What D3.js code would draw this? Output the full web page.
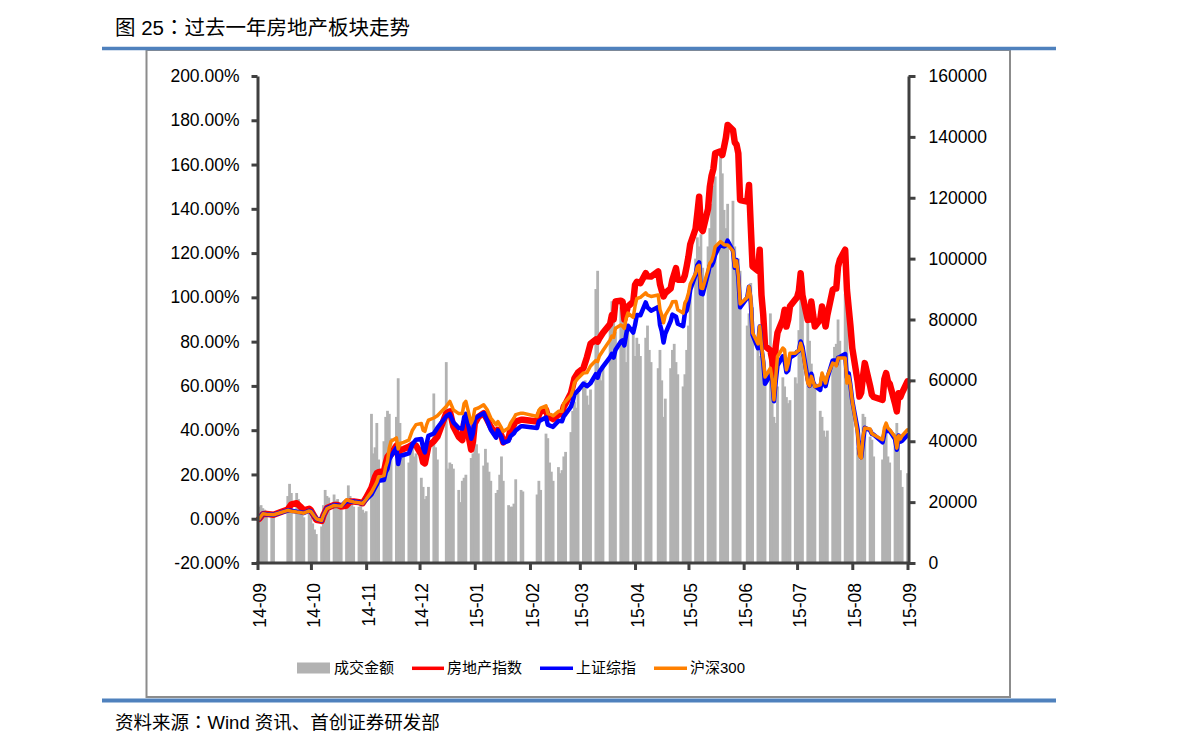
<!DOCTYPE html>
<html><head><meta charset="utf-8">
<script src="https://cdn.jsdelivr.net/npm/d3@7"></script>
<style>
body{margin:0;background:#fff;}
svg{display:block;font-family:"Liberation Sans","Noto Sans CJK SC",Arial,sans-serif;}
</style></head><body>
<svg id="chart" width="1191" height="754"></svg>
<script>
// ---------------- DATA ----------------
const titleParts = ["图 25", "：", "过去一年房地产板块走势"];
const sourceParts = ["资料来源", "：", "Wind 资讯、首创证券研发部"];
const seriesNames = ["成交金额", "房地产指数", "上证综指", "沪深300"];

// exchange holidays (no bars)
const holidays = ["2014-10-01","2014-10-02","2014-10-03","2014-10-06","2014-10-07",
  "2015-01-01","2015-01-02","2015-02-18","2015-02-19","2015-02-20","2015-02-23","2015-02-24",
  "2015-04-06","2015-05-01","2015-06-22","2015-09-03","2015-09-04"];

// daily turnover (right axis), one per trading day 2014-09-22 .. 2015-09-21
const volume = [
  // Sep
  18500,19000,18000,17500,16000, 16000,15500,
  // Oct
  22000,26000,23000, 23000,21000,19000,16500,15000, 17000,15000,13000,11000,9500, 12000,19000,24000,22000,21500,
  // Nov
  22500,20500,21000,18500,17500, 19000,25500,22000,20500,18500, 18500,19500,17500,16500,17000, 49000,36000,38000,46000,34000,
  // Dec
  40000,48000,50000,49000,41000, 48000,60700,46000,35000,38000, 33000,38000,40000,35000,36000, 28000,25000,21000,22000,25000, 55700,38000,34000,
  // Jan
  66000,31000,33000,32500,31000, 24000,20000,27000,28000,29000, 34500,36000,42000,39000,36000, 32000,37500,33000,30000,27000,
  // Feb
  23000,24000,29000,35000,27000, 19000,18500,18500,19500,27500, 24000,23500, 22500,27000,24000,
  // Mar
  42500,41000,33000,30000,27000, 31500,29500,30500,35000,36500, 43000,50000,53000,51000,56000, 58000,60000,55000,52000,57000, 90000,96000,
  // Apr
  62000,60000,64000, 78000,86000,84000,76000, 84000,80000,86000,66000,78000, 76000,68000,74000,72000,68000, 74000,78000,70000,66000,
  // May
  64000,70000,60000,48000,54000, 64000,70000,72000,66000,62000, 58000,62000,70000,78000,88000, 100000,107000,104000,108000,97000,
  // Jun
  104000,110000,118000,124000,127000, 135000,128000,116000,110000,118000, 119000,104000,98000,100000,96000, 78000,82000,92000,84000, 72000,68000,
  // Jul
  66000,63000,62000, 82000,57000,48000,46000,58000, 61000,58000,54500,52500,53500, 61000,59000,76500,92000,87500, 79000,73000,65500,62000,59000,
  // Aug
  50000,48000,43500,41500,43500, 65500,71000,72000,80000,73000, 88500,83000,62000,60000,54500, 38000,34000,39500,49000,48000, 41500,
  // Sep
  40500,35000, 34000,43500,46000,35000,33000, 42500,46000,39500,30500,25000, 29500
];

// line series sample dates
const lineDates = [
  "2014-09-22","2014-09-24","2014-09-26","2014-09-30",
  "2014-10-08","2014-10-10","2014-10-13","2014-10-15","2014-10-17","2014-10-20","2014-10-21","2014-10-23","2014-10-24","2014-10-27","2014-10-28","2014-10-30",
  "2014-11-03","2014-11-05","2014-11-07","2014-11-10","2014-11-12","2014-11-14","2014-11-17","2014-11-19","2014-11-21","2014-11-24","2014-11-26","2014-11-27","2014-11-28",
  "2014-12-01","2014-12-02","2014-12-03","2014-12-04","2014-12-05","2014-12-08","2014-12-09","2014-12-10","2014-12-12","2014-12-15","2014-12-17","2014-12-19","2014-12-22","2014-12-23","2014-12-24","2014-12-25","2014-12-26","2014-12-29","2014-12-31",
  "2015-01-05","2015-01-07","2015-01-09","2015-01-12","2015-01-14","2015-01-15","2015-01-16","2015-01-19","2015-01-20","2015-01-21","2015-01-23","2015-01-26","2015-01-28","2015-01-30",
  "2015-02-02","2015-02-03","2015-02-05","2015-02-06","2015-02-09","2015-02-10","2015-02-12","2015-02-13","2015-02-16","2015-02-17","2015-02-25","2015-02-26","2015-02-27",
  "2015-03-02","2015-03-03","2015-03-05","2015-03-06","2015-03-09","2015-03-11","2015-03-12","2015-03-13","2015-03-16","2015-03-17","2015-03-18","2015-03-20","2015-03-23","2015-03-25","2015-03-27","2015-03-30","2015-03-31",
  "2015-04-01","2015-04-03","2015-04-07","2015-04-08","2015-04-09","2015-04-10","2015-04-13","2015-04-14","2015-04-15","2015-04-16","2015-04-17","2015-04-20","2015-04-21","2015-04-22","2015-04-24","2015-04-27","2015-04-28","2015-04-30",
  "2015-05-04","2015-05-05","2015-05-06","2015-05-07","2015-05-08","2015-05-11","2015-05-12","2015-05-14","2015-05-15","2015-05-18","2015-05-19","2015-05-20","2015-05-21","2015-05-22","2015-05-25","2015-05-26","2015-05-27","2015-05-28","2015-05-29",
  "2015-06-01","2015-06-02","2015-06-03","2015-06-04","2015-06-05","2015-06-08","2015-06-09","2015-06-10","2015-06-11","2015-06-12","2015-06-15","2015-06-16","2015-06-17","2015-06-18","2015-06-19","2015-06-23","2015-06-24","2015-06-25","2015-06-26","2015-06-29","2015-06-30",
  "2015-07-01","2015-07-02","2015-07-03","2015-07-06","2015-07-07","2015-07-08","2015-07-09","2015-07-10","2015-07-13","2015-07-14","2015-07-15","2015-07-16","2015-07-17","2015-07-20","2015-07-21","2015-07-22","2015-07-23","2015-07-24","2015-07-27","2015-07-28","2015-07-29","2015-07-30","2015-07-31",
  "2015-08-03","2015-08-04","2015-08-05","2015-08-06","2015-08-07","2015-08-10","2015-08-11","2015-08-12","2015-08-13","2015-08-14","2015-08-17","2015-08-18","2015-08-19","2015-08-20","2015-08-21","2015-08-24","2015-08-25","2015-08-26","2015-08-27","2015-08-28","2015-08-31",
  "2015-09-01","2015-09-02","2015-09-07","2015-09-08","2015-09-09","2015-09-10","2015-09-11","2015-09-14","2015-09-15","2015-09-16","2015-09-17","2015-09-18","2015-09-21"
];

// 房地产指数 (% change)
const realEstate = [
  0,2.0,2.2,1.8,
  4.2,6.5,7.0,5.5,3.8,4.5,3.8,1.0,-0.5,-1.0,1.5,4.8,
  6.2,6.2,5.5,6.0,7.8,7.8,7.5,7.0,9.5,14.0,19.0,20.6,21.0,
  21.5,25.0,28.0,29.0,29.0,33.0,28.5,31.0,31.5,32.5,33.5,33.0,29.0,25.5,25.0,29.0,33.0,35.0,37.0,
  47.7,48.5,41.7,37.0,35.5,43.2,44.0,31.2,35.0,43.0,46.0,47.7,44.7,41.5,
  37.9,40.2,37.5,34.5,36.5,40.0,42.5,43.9,44.7,44.7,43.9,47.0,48.5,
  49.2,46.0,45.5,45.0,47.0,47.5,50.7,52.0,56.7,60.0,63.5,66.0,68.0,73.0,79.0,81.0,80.0,
  81.5,84.0,88.0,92.0,90.0,98.1,98.5,98.1,90.0,93.0,95.9,98.0,105.6,107.0,106.4,110.9,109.5,109.4,
  111.7,106.0,103.0,100.4,102.0,104.0,108.0,113.2,108.0,107.9,110.0,114.0,118.4,124.0,131.0,138.0,145.5,131.2,130.0,
  140.0,150.0,155.0,158.0,165.1,166.0,164.3,168.0,172.0,177.9,175.6,170.0,169.0,165.0,144.0,143.3,150.8,132.0,114.0,112.0,121.5,
  101.0,92.0,78.0,76.0,72.0,64.3,78.0,84.0,90.0,94.4,86.8,90.0,96.0,99.0,100.0,103.0,110.9,101.0,89.8,90.0,98.1,92.0,86.8,
  90.0,95.9,91.0,86.8,92.0,103.4,104.0,104.0,113.9,117.0,121.5,103.4,95.0,86.8,77.0,62.0,55.2,57.0,64.3,70.3,60.0,
  56.0,55.0,53.7,63.0,65.8,62.0,61.0,52.0,48.5,56.7,55.0,57.0,62.0
];

// 上证综指 (% change)
const sse = [
  0,2.3,2.0,1.8,
  3.8,3.6,3.2,3.0,2.6,3.6,3.4,1.0,0.0,-0.8,1.5,4.8,
  6.2,6.0,5.8,8.0,7.8,7.8,7.3,7.0,8.6,11.0,14.0,15.5,17.2,
  17.5,21.0,22.5,26.6,28.3,31.9,24.7,28.4,28.8,29.5,33.7,35.7,36.0,32.0,30.0,34.0,37.5,38.5,41.0,
  46.3,47.3,43.5,41.0,40.7,45.7,47.4,36.1,38.6,45.1,46.3,47.7,44.3,40.2,
  36.6,39.9,36.9,34.3,35.2,37.2,38.6,39.9,41.8,41.8,41.0,44.0,44.5,
  45.7,42.5,41.8,41.5,44.2,44.0,46.3,47.3,50.6,53.0,56.2,57.9,61.0,59.9,61.2,65.3,63.7,
  66.4,68.7,73.0,74.5,72.8,76.2,80.0,80.6,78.3,83.1,87.2,84.1,87.5,92.0,91.9,97.7,95.5,94.0,
  95.6,87.7,84.7,79.6,83.6,89.3,92.2,91.3,88.1,87.0,92.9,94.1,97.8,103.4,110.2,114.5,115.8,101.7,101.4,
  110.8,114.4,114.4,116.1,119.3,124.1,123.3,123.0,123.6,125.6,121.0,113.4,116.9,109.0,95.5,99.9,104.8,97.7,83.1,77.0,86.8,
  77.0,70.9,61.0,64.9,62.8,53.1,62.0,69.3,73.4,71.4,66.2,67.0,72.8,74.3,75.4,75.8,80.1,77.7,62.7,60.0,65.5,61.8,60.0,
  58.2,64.0,61.4,59.9,63.5,71.5,71.5,69.7,72.7,73.1,74.4,63.7,65.7,60.0,53.2,40.2,29.5,27.8,34.7,41.1,40.0,
  38.3,38.0,34.5,38.5,41.6,39.6,39.7,36.0,31.2,37.6,34.8,35.2,37.8
];

// 沪深300 (% change)
const csi300 = [
  0,2.3,2.0,1.8,
  3.8,3.4,3.0,2.8,2.5,3.5,3.3,1.0,0.0,-0.8,1.5,4.6,
  6.0,5.8,5.6,8.6,8.0,7.6,7.2,6.8,8.8,12.0,15.0,16.5,19.0,
  19.5,23.5,26.0,32.0,35.0,36.5,31.5,34.0,34.5,35.5,40.0,42.5,43.0,40.0,39.5,42.5,44.5,45.5,46.5,
  50.7,53.0,49.2,47.5,47.5,52.0,53.0,43.2,45.0,49.5,50.0,51.5,49.2,45.5,
  42.4,43.9,41.0,39.4,41.0,43.0,45.5,47.0,47.7,47.7,46.2,49.0,50.0,
  51.0,47.5,47.0,46.5,48.5,48.5,52.2,53.0,55.7,58.0,61.5,63.5,65.8,66.0,69.0,71.5,71.0,
  73.5,76.0,80.8,82.5,82.0,86.0,87.5,87.0,86.0,90.5,92.9,91.0,96.0,99.5,100.0,102.0,101.0,100.4,
  101.1,94.5,92.0,88.5,92.0,96.0,98.0,98.1,94.4,92.9,97.5,99.0,101.9,106.0,110.9,113.9,114.5,104.2,104.0,
  112.4,115.5,116.5,119.0,122.9,125.2,124.5,123.8,123.7,123.7,121.0,114.0,116.5,110.0,97.0,100.0,104.9,100.0,84.0,79.0,87.0,
  78.0,72.0,64.0,68.0,63.0,53.7,64.0,73.3,77.1,76.3,67.3,70.0,74.8,74.8,75.5,76.0,79.3,76.5,61.3,60.0,64.3,62.0,59.7,
  60.5,65.8,63.5,61.3,64.5,70.3,70.0,69.0,72.6,72.6,72.6,61.3,64.3,60.0,53.0,38.5,28.5,27.4,37.0,41.0,40.5,
  38.5,37.9,35.7,41.0,43.2,41.0,40.2,37.0,31.9,37.5,36.0,37.5,40.2
];

const leftTicks = [-20,0,20,40,60,80,100,120,140,160,180,200];
const rightTicks = [0,20000,40000,60000,80000,100000,120000,140000,160000];
const monthTickLabels = ["14-09","14-10","14-11","14-12","15-01","15-02","15-03","15-04","15-05","15-06","15-07","15-08","15-09"];

// ---------------- CHART ----------------
const svg = d3.select("#chart");
const parse = d3.utcParse("%Y-%m-%d");
const fmt = d3.utcFormat("%Y-%m-%d");

const tradingDays = d3.utcDays(parse("2014-09-22"), parse("2015-09-22"))
  .filter(d => d.getUTCDay() % 6 !== 0 && !holidays.includes(fmt(d)));
if (tradingDays.length !== volume.length) console.warn("len", tradingDays.length, volume.length);

const x = d3.scaleUtc().domain([parse("2014-09-21"), parse("2015-09-21")]).range([257.5, 907.5]);
const yL = d3.scaleLinear().domain([-20, 200]).range([563, 76]);
const yR = d3.scaleLinear().domain([0, 160000]).range([563, 76]);

// frame & blue rules
svg.append("rect").attr("x", 146.5).attr("y", 50).attr("width", 863.5).attr("height", 647)
  .attr("fill", "none").attr("stroke", "#8c8c8c").attr("stroke-width", 2);
svg.append("line").attr("x1", 102).attr("x2", 1056).attr("y1", 48.5).attr("y2", 48.5)
  .attr("stroke", "#4f81bd").attr("stroke-width", 3.5);
svg.append("line").attr("x1", 102).attr("x2", 1056).attr("y1", 700.5).attr("y2", 700.5)
  .attr("stroke", "#4f81bd").attr("stroke-width", 4);

function partsText(parts, x, y, size) {
  const t = svg.append("text").attr("x", x).attr("y", y).attr("font-size", size).attr("fill", "#000");
  t.append("tspan").text(parts[0]);
  t.append("tspan").attr("font-family", '"Noto Sans CJK TC","Noto Sans CJK SC",sans-serif').text(parts[1]);
  t.append("tspan").text(parts[2]);
}
partsText(titleParts, 115, 35, 20.5);
partsText(sourceParts, 115, 729, 18.5);

// bars
const barData = tradingDays.map((d, i) => ({date: d, v: volume[i]}));
svg.append("g").selectAll("rect").data(barData).join("rect")
  .attr("x", d => x(d.date) - 1.4).attr("width", 2.8)
  .attr("y", d => yR(d.v)).attr("height", d => yR(0) - yR(d.v))
  .attr("fill", "#b2b2b2");

// lines
const lineGen = d3.line().x(d => x(d.date)).y(d => yL(d.v));
const dates = lineDates.map(parse);
const series = [
  {vals: realEstate, color: "#ff0000", w: 6.5},
  {vals: sse, color: "#0000ff", w: 4.5},
  {vals: csi300, color: "#ff8000", w: 3.5}
];
series.forEach(s => {
  svg.append("path").datum(dates.map((d, i) => ({date: d, v: s.vals[i]})))
    .attr("d", lineGen).attr("fill", "none").attr("stroke", s.color)
    .attr("stroke-width", s.w).attr("stroke-linejoin", "round").attr("stroke-linecap", "round");
});

// axes
const axisColor = "#404040";
function styleAxis(g) {
  g.select(".domain").attr("stroke", axisColor).attr("stroke-width", 3);
  g.selectAll(".tick line").attr("stroke", axisColor).attr("stroke-width", 3);
  g.selectAll("text").attr("fill", "#000").attr("font-size", 17.5)
    .attr("font-family", '"Liberation Sans", Arial, sans-serif');
}
const gL = svg.append("g").attr("transform", "translate(257.5,0)")
  .call(d3.axisLeft(yL).tickValues(leftTicks).tickFormat(d => d.toFixed(2) + "%").tickSize(6).tickSizeOuter(0).tickPadding(12));
styleAxis(gL);
const gR = svg.append("g").attr("transform", "translate(908.5,0)")
  .call(d3.axisRight(yR).tickValues(rightTicks).tickFormat(d => String(d)).tickSize(7).tickSizeOuter(0).tickPadding(13));
styleAxis(gR);
const monthTicks = monthTickLabels.map((l, i) => new Date(Date.UTC(2014, 8 + i, 21)));
const gB = svg.append("g").attr("transform", "translate(0,563)")
  .call(d3.axisBottom(x).tickValues(monthTicks).tickFormat((d, i) => monthTickLabels[i]).tickSize(7).tickSizeOuter(0));
styleAxis(gB);
gB.select(".domain").attr("d", "M256,0H910");
gB.selectAll(".tick text").attr("transform", "rotate(-90)").attr("text-anchor", "end")
  .attr("x", -20).attr("y", 2).attr("dy", "0.35em");

// legend
const lg = svg.append("g").attr("font-size", 15).attr("fill", "#000");
lg.append("rect").attr("x", 297).attr("y", 662.5).attr("width", 33).attr("height", 11).attr("fill", "#b2b2b2");
lg.append("text").attr("x", 334).attr("y", 668).attr("dy", "0.36em").text(seriesNames[0]);
const legendLines = [
  {x1: 412, x2: 444, tx: 447, color: "#ff0000", name: seriesNames[1]},
  {x1: 540, x2: 573, tx: 576, color: "#0000ff", name: seriesNames[2]},
  {x1: 654, x2: 687, tx: 690, color: "#ff8000", name: seriesNames[3]}
];
legendLines.forEach(l => {
  lg.append("line").attr("x1", l.x1).attr("x2", l.x2).attr("y1", 668.3).attr("y2", 668.3)
    .attr("stroke", l.color).attr("stroke-width", 3.5);
  lg.append("text").attr("x", l.tx).attr("y", 668).attr("dy", "0.36em").text(l.name);
});
</script>
</body></html>
